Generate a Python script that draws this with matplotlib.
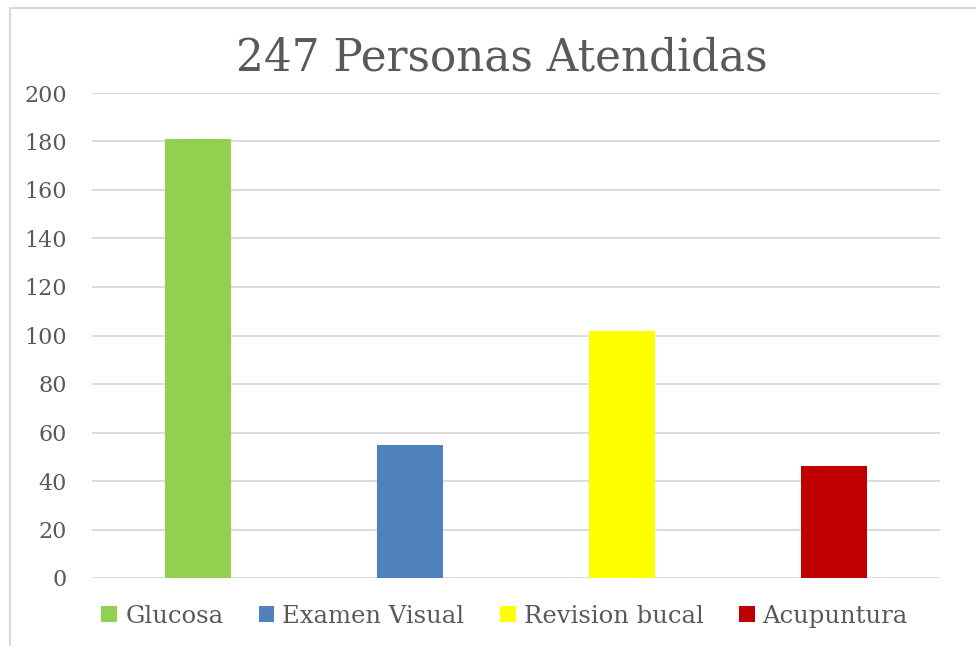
import matplotlib.pyplot as plt
from matplotlib.patches import Rectangle

categorias = ["Glucosa", "Examen Visual", "Revision bucal", "Acupuntura"]
valores = [181, 55, 102, 46]
colores = ["#92d050", "#4f81bd", "#ffff00", "#c00000"]
yticks = [0, 20, 40, 60, 80, 100, 120, 140, 160, 180, 200]

texto = "#595959"
plt.rcParams['font.family'] = ['DejaVu Serif']

fig = plt.figure(figsize=(9.76, 6.46), dpi=100)
ax = fig.add_axes([92 / 976, 68 / 646, 848 / 976, 485 / 646])

# marco del grafico (solo arriba e izquierda dentro de la imagen)
fig.patches.append(Rectangle((10 / 976, -0.1), 1.2, (646 - 8) / 646 + 0.1,
                             transform=fig.transFigure, fill=False,
                             edgecolor="#d9d9d9", linewidth=1.5))

x = range(len(categorias))
barras = ax.bar(x, valores, width=0.31, color=colores, zorder=3)

ax.set_xlim(-0.5, len(categorias) - 0.5)
ax.set_ylim(0, 200)
ax.set_yticks(yticks)
ax.set_xticks([])
ax.grid(axis="y", color="#d9d9d9", linewidth=1.3, zorder=0)
for s in ax.spines.values():
    s.set_visible(False)
ax.tick_params(axis="y", length=0, labelsize=16, labelcolor=texto, pad=18)

fig.text(0.514, 0.911, "247 Personas Atendidas", ha="center", va="center",
         fontsize=31.5, color=texto)

leg = fig.legend(barras, categorias, loc="center", bbox_to_anchor=(0.517, 0.046),
                 ncol=4, frameon=False, fontsize=17.5, labelcolor=texto,
                 handlelength=0.65, handleheight=0.65, handletextpad=0.33,
                 columnspacing=1.45)

fig.savefig("out.png", dpi=100)
